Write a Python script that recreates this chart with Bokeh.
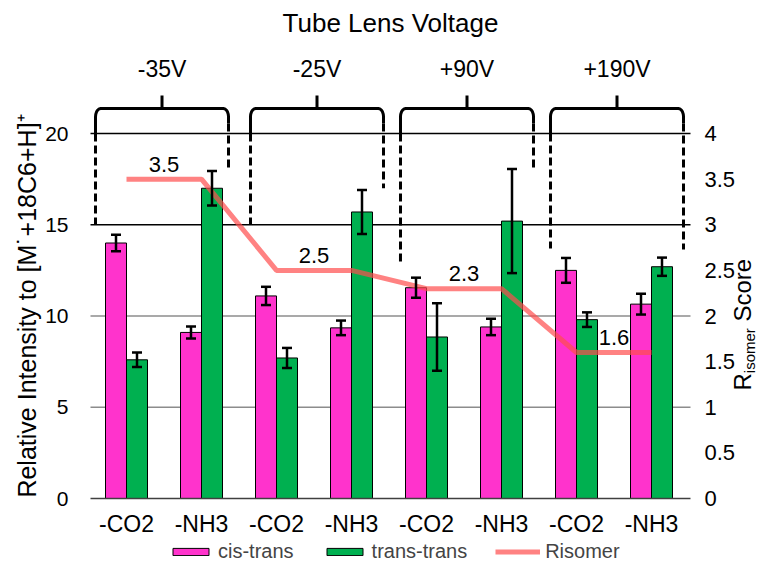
import numpy as np
from bokeh.plotting import figure
from bokeh.models import (ColumnDataSource, LinearAxis, Range1d, FixedTicker, Whisker,
                          TeeHead, Legend, LegendItem)
from bokeh.core.properties import value
from bokeh.embed import file_html
from bokeh.resources import INLINE

# ---------------- data ----------------
voltages = ["-35V", "-25V", "+90V", "+190V"]
losses = ["-CO2", "-NH3", "-CO2", "-NH3", "-CO2", "-NH3", "-CO2", "-NH3"]
cis_trans = [14.0, 9.1, 11.1, 9.35, 11.55, 9.4, 12.5, 10.65]
cis_trans_err = [0.45, 0.33, 0.5, 0.4, 0.55, 0.45, 0.68, 0.57]
trans_trans = [7.6, 17.0, 7.7, 15.7, 8.85, 15.2, 9.8, 12.7]
trans_trans_err = [0.4, 0.95, 0.55, 1.2, 1.85, 2.85, 0.4, 0.5]
risomer = [3.5, 3.5, 2.5, 2.5, 2.3, 2.3, 1.6, 1.6]
risomer_labels = [3.5, 2.5, 2.3, 1.6]
left_ticks = [0, 5, 10, 15, 20]
right_ticks = [0, 0.5, 1, 1.5, 2, 2.5, 3, 3.5, 4]
title_text = "Tube Lens Voltage"
left_title = "Relative Intensity to [M\u02d9+18C6+H]\u207a"
right_title = ["R", "isomer", "Score"]
legend_labels = ["cis-trans", "trans-trans", "Risomer"]

# brace (group bracket) geometry, in chart coordinates
brace_left = [-0.413, 1.653, 3.653, 5.653]
brace_right = [1.36, 3.427, 5.427, 7.427]
brace_left_end = [15.0, 15.0, 12.77, 13.7]
brace_right_end = [18.1, 17.0, 18.1, 13.65]

# ---------------- figure ----------------
F = "Liberation Sans"
X0, X1 = -1.68, 8.44
Y0, Y1 = -3.5616, 27.2877
ratio = left_ticks[-1] / right_ticks[-1]
plot_l, plot_r = -0.48, 7.52

p = figure(width=759, height=563, x_range=Range1d(X0, X1), y_range=Range1d(Y0, Y1),
           x_axis_type=None, y_axis_type=None, output_backend="svg",
           toolbar_location=None, min_border=0)
p.outline_line_color = None
p.background_fill_color = "white"
p.extra_y_ranges = {"r": Range1d(Y0 / ratio, Y1 / ratio)}

idx = np.arange(len(losses))
x_ct = idx - 0.14
x_tt = idx + 0.14

# grid lines
p.segment(x0=plot_l, x1=plot_r, y0=left_ticks[1:3], y1=left_ticks[1:3],
          line_color="#8c8c8c", line_width=1.3)
p.segment(x0=plot_l, x1=plot_r, y0=left_ticks[3:], y1=left_ticks[3:],
          line_color="black", line_width=1.3)

# bars
r_ct = p.vbar(x=x_ct, top=cis_trans, width=0.28, fill_color="#FF33CC",
              line_color="black", line_width=1)
r_tt = p.vbar(x=x_tt, top=trans_trans, width=0.28, fill_color="#00B050",
              line_color="black", line_width=1)

# Risomer line
r_line = p.line(x=idx, y=risomer, y_range_name="r", line_color="#FF4D4D",
                line_alpha=0.7, line_width=5)

# error bars
vals = cis_trans + trans_trans
errs = cis_trans_err + trans_trans_err
err_src = ColumnDataSource(dict(base=list(x_ct) + list(x_tt),
                                lower=[v - e for v, e in zip(vals, errs)],
                                upper=[v + e for v, e in zip(vals, errs)]))
w = Whisker(source=err_src, base="base", lower="lower", upper="upper",
            line_color="black", line_width=2.5, level="annotation",
            upper_head=TeeHead(size=10, line_width=2.5, line_color="black"),
            lower_head=TeeHead(size=10, line_width=2.5, line_color="black"))
p.add_layout(w)

# Risomer value labels (centred ~15 px above the line)
p.text(x=list(idx[::2] + 0.5), y=[v + 0.165 for v in risomer_labels],
       text=[f"{v:g}" for v in risomer_labels],
       y_range_name="r", text_align="center", text_baseline="middle",
       text_font=value(F), text_font_size="22px", text_color="black")

# braces
top, tip = 21.37, 22.08
cx, cy = 0.07, 0.45
t = np.linspace(0, np.pi / 2, 6)
bx, by = [], []
for L, R in zip(brace_left, brace_right):
    xs = [L] + list(L + cx - cx * np.cos(t)) + list(R - cx + cx * np.cos(t[::-1])) + [R]
    ys = [20.0] + list(top - cy + cy * np.sin(t)) + list(top - cy + cy * np.sin(t[::-1])) + [20.55]
    bx.append(xs)
    by.append(ys)
p.multi_line(xs=bx, ys=by, line_color="black", line_width=3, line_join="round")
mids = [(a + b) / 2 for a, b in zip(brace_left, brace_right)]
p.segment(x0=mids, x1=mids, y0=top, y1=tip, line_color="black", line_width=3)
p.segment(x0=brace_left, x1=brace_left, y0=20.0, y1=brace_left_end,
          line_color="black", line_width=3, line_dash="8 4")
p.segment(x0=brace_right, x1=brace_right, y0=20.55, y1=brace_right_end,
          line_color="black", line_width=3, line_dash="8 4")

# group labels and title
p.text(x=mids, y=23.507, text=voltages, text_align="center", text_baseline="middle",
       text_font=value(F), text_font_size="23px", text_color="black")
p.text(x=[(plot_l + plot_r) / 2], y=[26.08], text=[title_text], text_align="center",
       text_baseline="middle", text_font=value(F), text_font_size="26px",
       text_color="black")

# axis titles
p.text(x=[-1.333], y=[10.548], text=[left_title], angle=np.pi / 2, text_align="center",
       text_baseline="middle", text_font=value(F), text_font_size="25px",
       text_color="black")
p.text(x=[8.207], y=[5.918], text=[right_title[0]], angle=np.pi / 2, text_align="left",
       text_baseline="middle", text_font=value(F), text_font_size="24px",
       text_color="black")
p.text(x=[8.30], y=[6.866], text=[right_title[1]], angle=np.pi / 2, text_align="left",
       text_baseline="middle", text_font=value(F), text_font_size="15px",
       text_color="black")
p.text(x=[8.207], y=[9.699], text=[right_title[2]], angle=np.pi / 2, text_align="left",
       text_baseline="middle", text_font=value(F), text_font_size="24px",
       text_color="black")

# axes
lax = LinearAxis(fixed_location=plot_l, ticker=FixedTicker(ticks=left_ticks),
                 major_label_standoff=16, axis_line_color=None,
                 major_tick_line_color=None, minor_tick_line_color=None,
                 major_label_text_font=F, major_label_text_font_size="21px",
                 major_label_text_color="black")
p.add_layout(lax, "left")

rax = LinearAxis(y_range_name="r", fixed_location=plot_r,
                 ticker=FixedTicker(ticks=right_ticks),
                 major_label_overrides={t_: f"{t_:g}" for t_ in right_ticks},
                 major_label_standoff=8, axis_line_color=None,
                 major_tick_line_color=None, minor_tick_line_color=None,
                 major_label_text_font=F, major_label_text_font_size="22px",
                 major_label_text_color="black")
p.add_layout(rax, "right")

bax = LinearAxis(fixed_location=0, ticker=FixedTicker(ticks=[int(i) for i in idx]),
                 major_label_overrides={int(i): lab for i, lab in enumerate(losses)},
                 bounds=(plot_l, plot_r), axis_line_color="#404040", axis_line_width=1.5,
                 major_tick_line_color=None, minor_tick_line_color=None,
                 major_label_standoff=6, major_label_text_font=F,
                 major_label_text_font_size="23px", major_label_text_color="black")
p.add_layout(bax, "below")

legend = Legend(items=[LegendItem(label=legend_labels[0], renderers=[r_ct]),
                       LegendItem(label=legend_labels[1], renderers=[r_tt]),
                       LegendItem(label=legend_labels[2], renderers=[r_line])],
                orientation="horizontal", location=(168, 0), glyph_width=45,
                glyph_height=9, label_standoff=5, spacing=28, padding=0, margin=0,
                border_line_color=None, background_fill_alpha=0,
                label_text_font=F, label_text_font_size="20px")
p.add_layout(legend)

open("out.html", "w").write(file_html(p, INLINE))
